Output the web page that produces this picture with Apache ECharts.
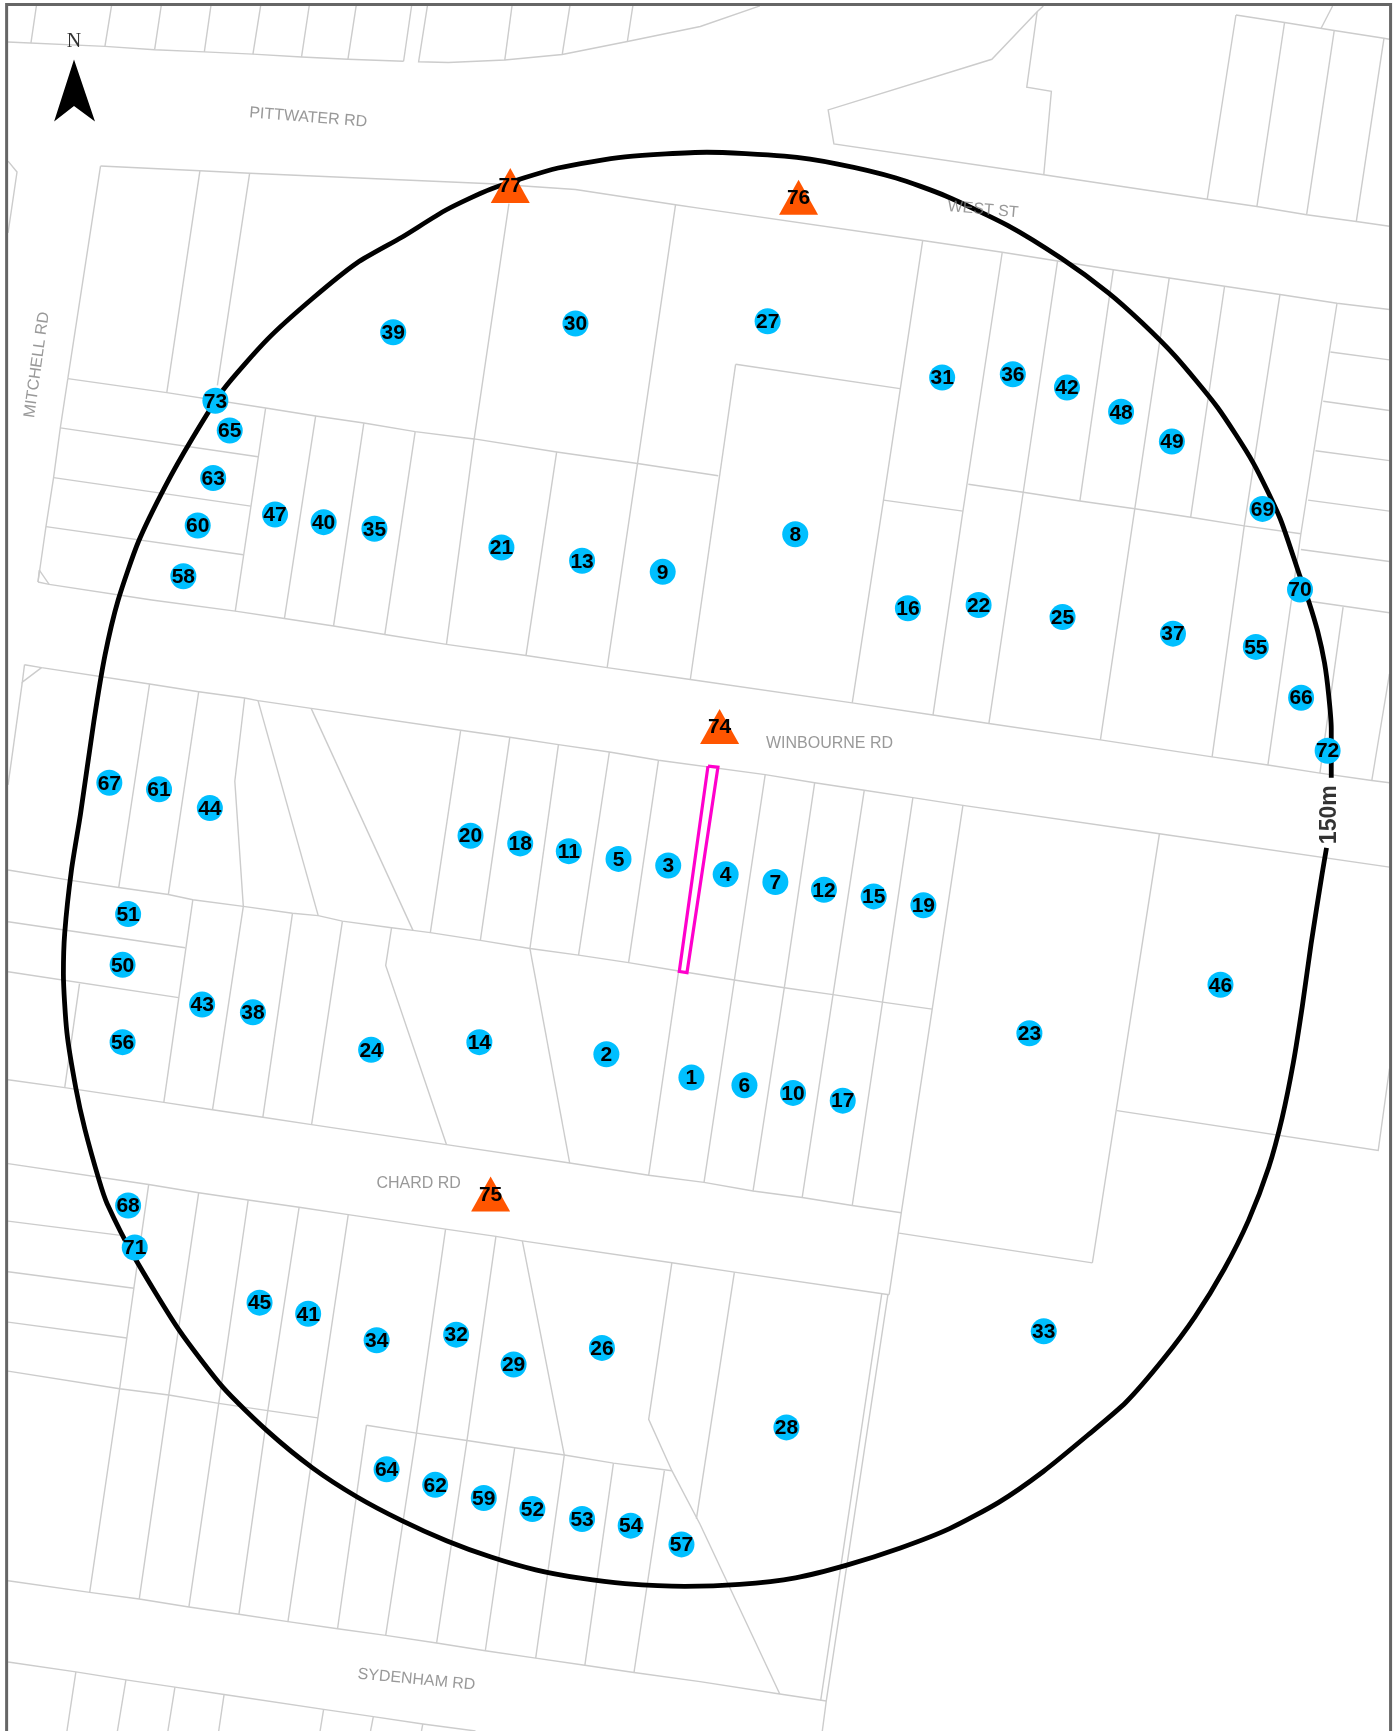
<!DOCTYPE html>
<html>
<head>
<meta charset="utf-8">
<style>html,body{margin:0;padding:0;background:#fff}#c{width:1395px;height:1731px}</style>
<script src="https://cdn.jsdelivr.net/npm/echarts@6/dist/echarts.min.js"></script>
</head>
<body>
<div id="c"></div>
<script>
// Map coordinates (map units; axes span 0..1263 and 0..1568)
const mapWidth = 1263, mapHeight = 1568;

const frameLine = [[6,1568],[6,4],[1259,4],[1259,1568]];

const northArrow = [[67,54],[86,110],[67,96],[49,110]];

const subjectLot = [[641,694],[650,695],[622,881],[615,880],[641,694]];

const parcelLines = [
 // top row
 [[7,38],[95,42],[140,45],[185,47],[229,49],[273,51.6],[315,53.7],[365.4,55.5]],
 [[33,5],[28,39]],[[101,5],[95,42]],[[146,5],[140,45]],[[191,5],[185,47]],[[236,5],[229,49]],[[280,5],[273,51.6]],[[322.5,5],[315,53.7]],[[372.7,5],[365.4,55.5]],
 [[387,5],[379,56],[406,56.6],[457,54.4],[509,49.4],[568,37.6],[634,24],[688,5.4]],
 [[463.6,5],[457,54.4]],[[516,5],[509,49.4]],[[573,5],[568,37.6]],
 // top right
 [[944.6,5.4],[939,10.7],[898,53.7],[749.8,99.6],[755,130.4],[945,158.3],[1093,180.5],[1138,187],[1183,194.5],[1228,200.6],[1258,204.9]],
 [[939,10.7],[929.6,79],[951.9,82.7],[945,158.3]],
 [[1119,13.6],[1163,20.4],[1208,27.6],[1253,34.7],[1258,35.5]],
 [[1119,13.6],[1093,180.5]],[[1163,20.4],[1138,187]],[[1208,27.6],[1183,194.5]],[[1253,34.7],[1228,200.6]],
 [[1206.5,5.4],[1196,25.8]],
 // Pittwater / West St south side
 [[91,150.4],[181,154.7],[226,157],[444.6,166.5],[521,171.6],[611.6,185.5],[634,188.8],[835.4,217.8],[907.4,228.5],[957.5,236.4],[1008,244.3],[1058.6,251.8],[1108.7,259.3],[1158.8,266.8],[1210.5,274.7],[1258,280.4]],
 [[91,150.4],[61.4,343]],[[181,154.7],[151,355.7]],[[226,157],[196.8,349]],
 [[61.4,343],[151,355.7],[240.5,369.6],[285.8,376.8],[329.4,383.2],[375.9,391],[429.3,397.6],[504,409.4],[577.2,419.8],[650.3,430.9]],
 [[460.8,184.5],[429.3,397.6],[404.2,583.7]],
 [[611.6,185.5],[577.2,419.8],[549.7,604.8]],
 [[504,409.4],[476.2,593.8]],
 [[240.5,369.6],[213,553.6]],[[285.8,376.8],[257.5,560.3]],[[329.4,383.2],[302,567]],[[375.9,391],[348.4,574.7]],
 // left block north of Winbourne
 [[61.4,343],[54.6,387.6],[48.5,432.7],[41.6,477],[34.4,527.2]],
 [[54.6,387.6],[233.6,413.7]],[[48.5,432.7],[227,458.5]],[[41.6,477],[220.3,502.5]],
 [[34.4,527.2],[44.5,529.4],[137.4,543.5],[213,553.6],[257.5,560.3],[302,567],[348.4,574.7],[404.2,583.7],[476.2,593.8],[549.7,604.8],[625,615.5],[771.6,636.7],[844.7,647.7],[895.3,655.4],[996.3,670.2],[1097.4,685.6],[1147.9,693],[1195,700.3],[1242,707],[1258,709]],
 [[35.6,516.5],[44.5,529.4]],[[34.4,527.2],[35.6,516.5]],
 [[7.3,146],[15.4,155.8],[7.3,211]],
 // north block right
 [[835.4,217.8],[799.9,453],[771.6,636.7]],
 [[799.9,453],[871.8,463]],
 [[907.4,228.5],[871.8,463],[844.7,647.7]],
 [[957.5,236.4],[926.4,445.9],[895.3,655.4]],
 [[1008,244.3],[977.7,453.8]],
 [[1058.6,251.8],[1027.4,460.9],[996.3,670.2]],
 [[1108.7,259.3],[1078,468.5]],
 [[1158.8,266.8],[1126.5,476.4],[1097.4,685.6]],
 [[1210.5,274.7],[1177.8,483.5],[1147.9,693]],
 [[876.7,438.7],[926.4,445.9],[977.7,453.8],[1027.4,460.9],[1078,468.5],[1126.5,476.4],[1177.8,483.5]],
 [[666,330],[814.8,352]],[[666,330],[625,615.5]],
 // right small lots
 [[1204.5,318.8],[1258,326]],[[1198,363.5],[1258,371.8]],[[1191,408.3],[1258,417.3]],[[1184.3,453],[1258,463]],[[1177.8,497.8],[1258,508.6]],[[1181,544],[1258,555]],
 [[1216,550],[1195,700.3]],[[1258,610.5],[1242,707]],
 // Winbourne south side
 [[22.2,602.1],[37.6,604.8],[135.4,619.6],[179.9,626.6],[221.5,632.3],[233.6,634.7],[281.7,641.7],[417.1,661.5],[461.6,667.8],[505.6,674.5],[551.7,681.2],[596.2,688.6],[692.8,701.7],[737.6,709],[782.5,715.8],[826.5,722.5],[871.8,729.5],[1049.7,755.3],[1258,785.5]],
 [[22.2,602.1],[20.2,617.9],[37.6,604.8]],[[20.2,617.9],[7.3,711]],
 [[135.4,619.6],[107.5,803.9]],[[179.9,626.6],[152.4,810.3]],
 [[221.5,632.3],[212.6,707.7],[220.3,821]],
 [[233.6,634.7],[288.1,829.4]],[[281.7,641.7],[373.9,842.8]],
 [[417.1,661.5],[389.6,844.8]],[[461.6,667.8],[434.9,851.8]],[[505.6,674.5],[479.8,859.2]],[[551.7,681.2],[523.8,865.2]],[[596.2,688.6],[569.1,872]],
 // mid line
 [[7.3,788.1],[62.7,797.2],[107.5,803.9],[152.4,810.3],[174.6,815],[220.3,821],[264.8,827.3],[288.1,829.4],[310,834.4],[354.5,840.4],[373.9,842.8],[389.6,844.8],[434.9,851.8],[479.8,859.2],[523.8,865.2],[569.1,872],[614.4,879.6],[664.9,887.7],[710.1,894.7],[754.2,901],[799,907.8],[844,914.1]],
 [[692.8,701.7],[664.9,887.7],[637.4,1071]],
 [[737.6,709],[710.1,894.7],[681.8,1078.8]],
 [[782.5,715.8],[754.2,901],[726.3,1084.7]],
 [[826.5,722.5],[799,907.8],[771.6,1092]],
 [[871.8,729.5],[844,914.1],[816,1098.6],[805,1172.8]],
 // Chard north side
 [[7.3,978.1],[58.6,985.2],[148.3,998.6],[192.4,1005.3],[238,1012],[282.1,1018.7],[404.2,1036.8],[515.8,1053.5],[587.3,1064.6],[637.4,1071],[681.8,1078.8],[726.3,1084.7],[771.6,1092],[816,1098.6]],
 [[174.6,815],[148.3,998.6]],[[220.3,821],[192.4,1005.3]],[[264.8,827.3],[238,1012]],[[310,834.4],[282.1,1018.7]],
 [[354.5,840.4],[349.2,874.6],[404.2,1036.8]],
 [[479.8,859.2],[515.8,1053.5]],[[614.4,879.6],[587.3,1064.6]],
 [[7.3,835],[167.7,858.5]],[[7.3,880.3],[161.7,903.7]],[[72,891],[58.6,985.2]],
 // east large lots
 [[814,1117],[989,1144]],[[1049.7,755.3],[989,1144]],
 [[1011.3,1006],[1247.8,1042.2],[1258,968]],
 // Chard south side
 [[7.3,1054],[134.6,1073],[179.9,1080.4],[224.7,1087],[270.8,1093.6],[315.3,1100.2],[403.4,1113.4],[449,1120],[472.9,1124],[608.3,1143.8],[664.9,1152.3],[805,1172.8]],
 [[134.6,1073],[121.3,1166.2],[108.3,1258],[81.2,1442.4]],
 [[179.9,1080.4],[152.8,1263.6],[126.1,1448.4]],
 [[224.7,1087],[198,1271.2],[171,1455.7]],
 [[270.8,1093.6],[242.5,1277.8],[216.3,1462.3]],
 [[315.3,1100.2],[287.8,1284.4],[260.7,1468.9]],
 [[403.4,1113.4],[377.1,1298.2],[349.2,1481.4]],
 [[449,1120],[422.8,1304.8],[395.3,1488.3]],
 [[472.9,1124],[510.9,1318],[485,1502]],
 [[331.8,1291],[305.6,1475.4]],[[466,1311.4],[439.4,1495.3]],[[555.4,1325.3],[529.5,1508.5]],[[601.5,1332.2],[574,1515]],
 [[331.8,1291],[377.1,1298.2],[422.8,1304.8],[466,1311.4],[510.9,1318],[555.4,1325.3],[608.3,1332.2]],
 [[608.3,1143.8],[587.3,1285.7],[608.3,1332.2],[633.8,1380.7],[706,1534.5]],
 [[664.9,1152.3],[630.5,1375.8]],
 [[798.3,1172],[743,1540.5]],[[803.9,1172.8],[748.1,1540.8],[744.5,1568]],
 [[7.3,1106.1],[111.2,1119.3]],[[7.3,1152],[121.3,1166.9]],[[7.3,1197.6],[114.8,1212]],
 [[7.3,1242],[108.3,1258],[152.8,1263.6],[198,1271.2],[242.5,1277.8],[287.8,1284.4]],
 // Sydenham
 [[7.3,1431.9],[81.2,1442.4],[126.1,1448.4],[171,1455.7],[216.3,1462.3],[260.7,1468.9],[305.6,1475.4],[349.2,1481.4],[395.3,1488.3],[439.4,1495.3],[485,1502],[529.5,1508.5],[574,1515],[633.8,1523.3],[706,1534.5],[748.1,1540.8]],
 [[7.3,1505.5],[68.7,1514.4],[114,1521.7],[158.4,1528.3],[202.9,1534.9],[293,1548.4],[338,1555],[382.8,1561.6],[430.5,1568]],
 [[68.7,1514.4],[60.6,1568]],[[114,1521.7],[106.3,1568]],[[158.4,1528.3],[152,1568]],[[202.9,1534.9],[198,1568]],[[293,1548.4],[289.8,1568]],[[338,1555],[335.5,1568]],[[382.8,1561.6],[381.6,1568]]
];

// 150 m notification boundary, clockwise from just below its label, ending just above it
const boundary = [[1201,768],[1197,791.5],[1187,855.2],[1179,912.1],[1171,962.4],[1160.8,1012.7],[1148.7,1057.3],[1130.5,1105.2],[1108.3,1149.7],[1082,1192.6],[1053.7,1230.6],[1019.4,1270.2],[985,1299.9],[944.6,1332.9],[904.2,1360.9],[859.7,1384.7],[815.2,1402.2],[766.7,1417.7],[720.2,1429.2],[669.7,1435.2],[620,1437],[565.9,1434.5],[525.5,1429.6],[485,1422],[444.6,1410.4],[404.2,1395.6],[363.8,1377.4],[323.4,1356],[282.9,1329.6],[242.5,1296.6],[202.1,1257],[161.7,1204.2],[121.3,1138.2],[97,1090.3],[89.7,1069],[76.8,1022.7],[68.7,985.9],[60.6,935.6],[57.4,882],[58.6,845.1],[64.7,788.1],[72.8,737.9],[84.9,654],[95,593.8],[107,543.5],[125.3,490.7],[149.6,440.5],[173.8,397.6],[202.1,353],[242.5,307],[282.9,270.4],[323.4,238],[363.8,214.9],[404.2,190],[444.6,171.2],[505.3,152.2],[565.9,142.2],[640,137.9],[710.1,141.5],[758.6,148.6],[811.2,161.2],[855.7,177.3],[912.2,204.1],[960.8,234],[1003.2,265],[1033.5,291.9],[1063.8,322.4],[1102.2,368.9],[1134.5,419],[1158.8,469.2],[1176,519.3],[1185,545],[1193,572],[1199.2,600.5],[1203,630],[1205.3,660],[1205.3,704.4]];

// Receivers: [number, x, y]
const receivers = [
 [1,626,976],[2,549,955],[3,605,784],[4,657,792],[5,560,778],[6,674,983],[7,702,799],[8,720,484],[9,600,518],[10,718,990],
 [11,515,771],[12,746,806],[13,527,508],[14,434,944],[15,791,812],[16,822,551],[17,763,997],[18,471,764],[19,836,820],[20,426,757],
 [21,454,496],[22,886,548],[23,932,936],[24,336,951],[25,962,559],[26,545,1221],[27,695,291],[28,712,1293],[29,465,1236],[30,521,293],
 [31,853,342],[32,413,1209],[33,945,1206],[34,341,1214],[35,339,479],[36,917,339],[37,1062,574],[38,229,917],[39,356,301],[40,293,473],
 [41,279,1190],[42,966,351],[43,183,910],[44,190,732],[45,235,1180],[46,1105,892],[47,249,466],[48,1015,373],[49,1061,400],[50,111,874],
 [51,116,828],[52,482,1367],[53,527,1376],[54,571,1382],[55,1137,586],[56,111,944],[57,617,1399],[58,166,522],[59,438,1357],[60,179,476],
 [61,144,715],[62,394,1345],[63,193,433],[64,350,1331],[65,208,390],[66,1178,632],[67,99,709],[68,116,1092],[69,1143,461],[70,1177,534],
 [71,122,1130],[72,1202,680],[73,195,363]
];

// Triangle sites: [number, x, y]
const sites = [[74,651.5,658],[75,444.2,1081.5],[76,723,178.7],[77,462,168]];

// Road names: [text, x, y, rotation]
const roadNames = [
 ['PITTWATER RD',279,106.5,-4.5],
 ['WEST ST',890,190,-5],
 ['WINBOURNE RD',751,673.5,0],
 ['CHARD RD',379,1072,0],
 ['SYDENHAM RD',377,1521.5,-5.5],
 ['MITCHELL RD',33.5,330.5,82]
];

const northLabel = ['N',67,38];
const distanceLabel = ['150m',1204,738];

const chart = echarts.init(document.getElementById('c'), null, {renderer:'canvas'});
const toPolys = (list) => list.map(c => ({coords:c}));
const sans = '"Liberation Sans", Arial, sans-serif';
const markLabel = {show:true,position:'inside',offset:[0,1],formatter:p=>String(p.value[2]),color:'#000',fontWeight:'bold',fontFamily:sans,fontSize:21};

chart.setOption({
 animation:false,
 backgroundColor:'#fff',
 grid:{left:0,right:0,top:0,bottom:0,containLabel:false},
 xAxis:{type:'value',min:0,max:mapWidth,show:false},
 yAxis:{type:'value',min:0,max:mapHeight,inverse:true,show:false},
 series:[
  {type:'lines',name:'parcels',coordinateSystem:'cartesian2d',polyline:true,silent:true,z:1,
   lineStyle:{color:'#cccccc',width:1.4,opacity:1,join:'miter'},data:toPolys(parcelLines)},
  {type:'lines',name:'frame',coordinateSystem:'cartesian2d',polyline:true,silent:true,z:2,
   lineStyle:{color:'#666666',width:3,opacity:1},data:toPolys([frameLine])},
  {type:'lines',name:'subject lot',coordinateSystem:'cartesian2d',polyline:true,silent:true,z:3,
   lineStyle:{color:'#ff00cc',width:3.2,opacity:1},data:toPolys([subjectLot])},
  {type:'line',name:'150m boundary',coordinateSystem:'cartesian2d',silent:true,z:4,showSymbol:false,symbol:'none',
   smooth:0.22,clip:false,
   lineStyle:{color:'#000000',width:4.8,opacity:1,cap:'butt',join:'round'},data:boundary},
  {type:'custom',name:'north arrow',coordinateSystem:'cartesian2d',silent:true,z:5,clip:false,
   data:[0],renderItem:(p,api)=>({type:'polygon',shape:{points:northArrow.map(q=>api.coord(q))},style:{fill:'#000'}})},
  {type:'scatter',name:'labels',coordinateSystem:'cartesian2d',symbolSize:0,silent:true,z:5,clip:false,
   data:roadNames.map(r=>({value:[r[1],r[2]],
     label:{show:true,position:'inside',formatter:r[0],rotate:r[3],color:'#808080',fontFamily:sans,fontSize:16}}))
    .concat([{value:[northLabel[1],northLabel[2]],
     label:{show:true,position:'inside',formatter:northLabel[0],color:'#000',fontFamily:'"Liberation Serif", serif',fontSize:20}},
     {value:[distanceLabel[1],distanceLabel[2]],
     label:{show:true,position:'inside',formatter:distanceLabel[0],rotate:90,color:'#000',fontWeight:'bold',fontFamily:sans,fontSize:23}}])},
  {type:'scatter',name:'sites',coordinateSystem:'cartesian2d',symbol:'triangle',symbolSize:[39,35],silent:true,z:6,
   itemStyle:{color:'#ff5500',opacity:1},
   data:sites.map(s=>[s[1],s[2],s[0]]),label:markLabel},
  {type:'scatter',name:'receivers',coordinateSystem:'cartesian2d',symbol:'circle',symbolSize:26,silent:true,z:6,
   itemStyle:{color:'#00bfff',opacity:1},
   data:receivers.map(s=>[s[1],s[2],s[0]]),label:markLabel}
 ]
});
</script>
</body>
</html>
